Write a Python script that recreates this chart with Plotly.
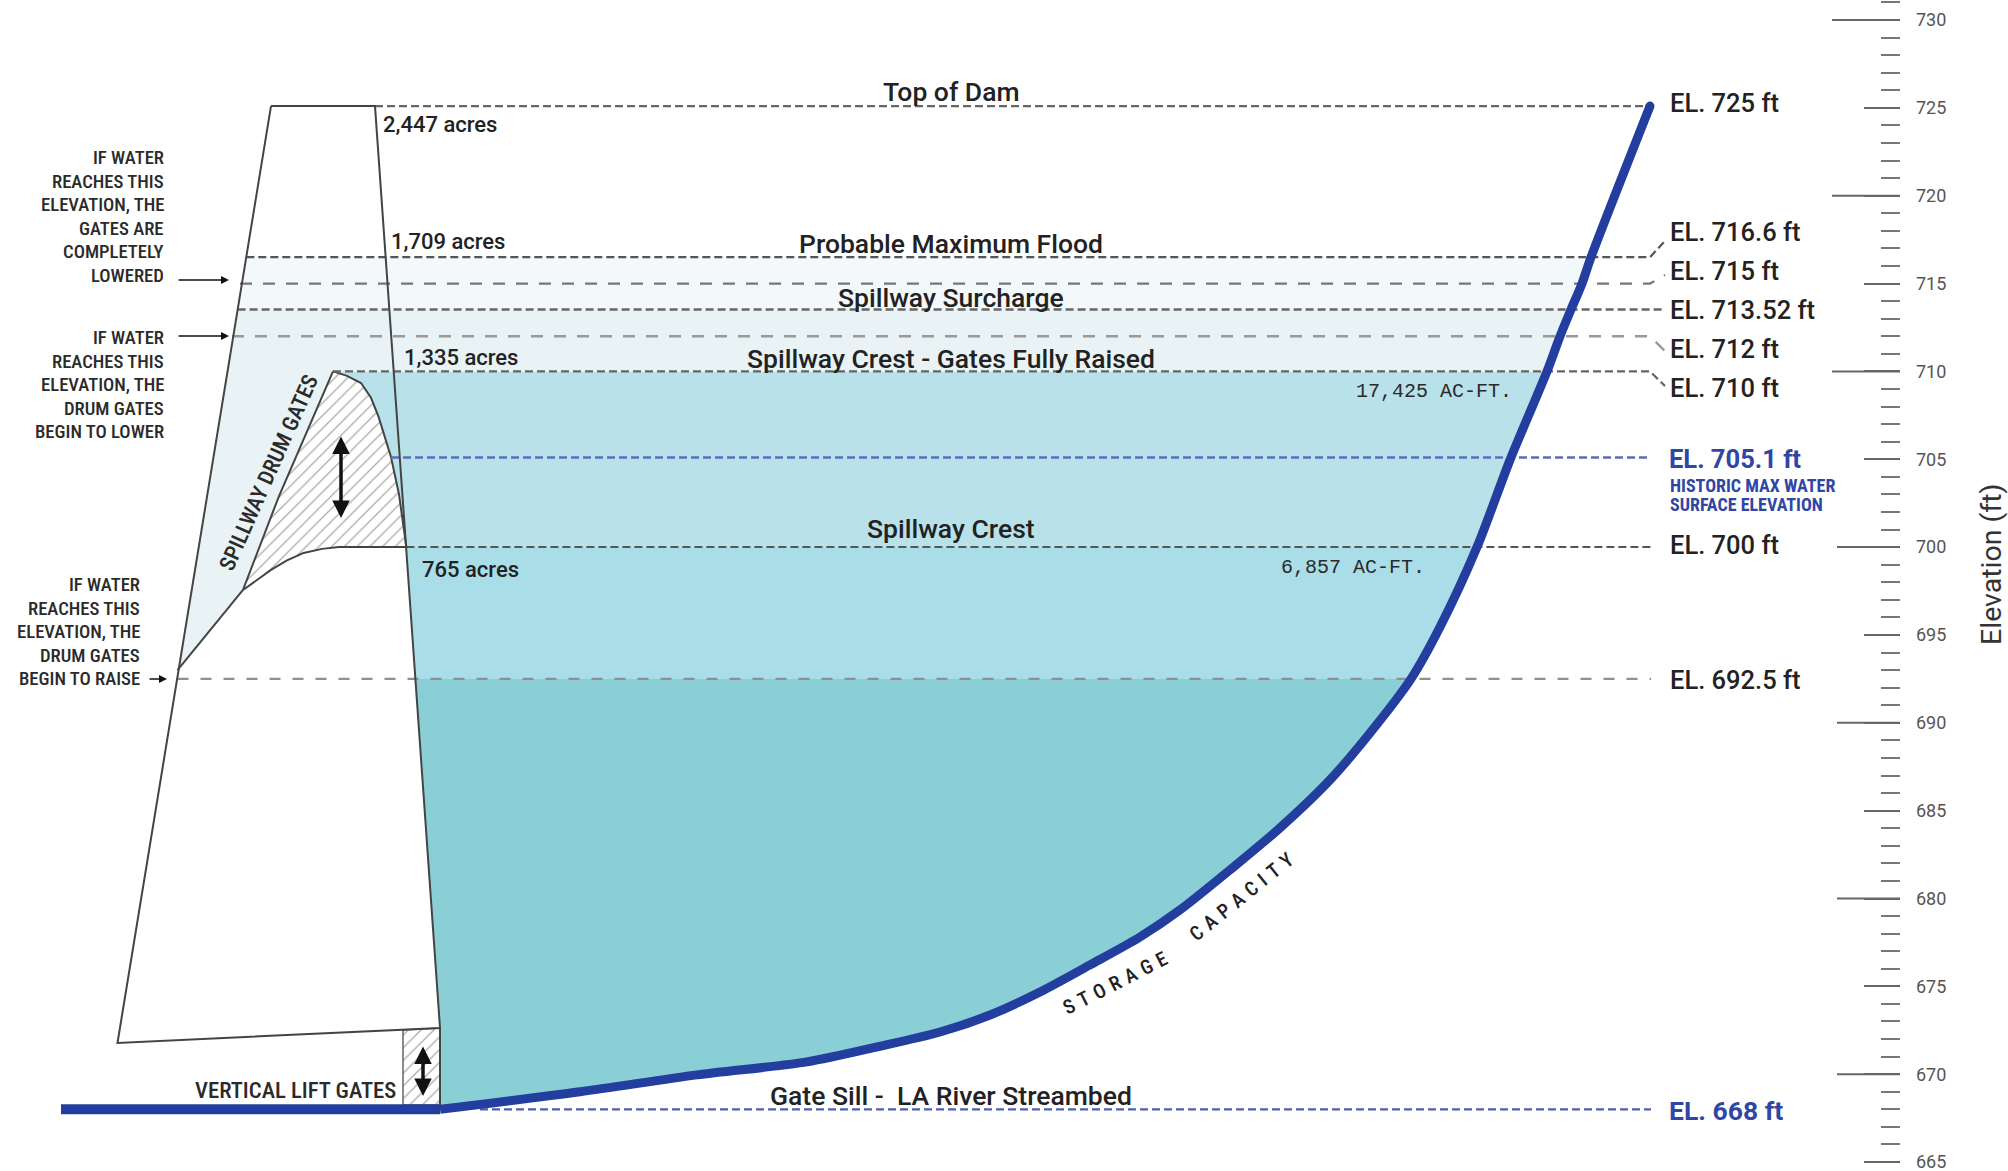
import plotly.graph_objects as go

W, H = 2008, 1171
Y_TOP, Y_BOTTOM = 731.14, 664.49

# ---------- data ----------
curve_dist = [440, 580, 697, 807, 877, 940, 990, 1040, 1090, 1140, 1180, 1230, 1280, 1330, 1370,
              1411, 1440, 1477, 1510, 1547, 1560, 1571, 1582, 1591, 1650]
curve_elev = [668.0, 669.0, 669.96, 670.7, 671.55, 672.4, 673.37, 674.68, 676.22, 677.81, 679.35, 681.63,
              684.02, 686.75, 689.42, 692.5, 695.45, 700.0, 704.96, 710.0, 712.0, 713.52, 715.0, 716.5, 725.1]
bed_dist = [61, 440]
bed_elev = [668.0, 668.0]

dam_dist = [271, 375, 440, 117.5, 271]
dam_elev = [725.1, 725.1, 672.63, 671.78, 725.1]
dam_face_dist = [440, 440]
dam_face_elev = [672.63, 668.0]
dam_left_at = {716.5: 246.3, 713.52: 237.6, 710: 227.4, 693: 177.5}
dam_right_at = {710: 393.8, 700: 406.4, 692.5: 415.4}

gate_front_dist = [333, 347, 361, 371, 378.6, 391, 399, 406.4]
gate_front_elev = [710.0, 709.75, 709.34, 708.5, 707.41, 705.13, 703.0, 700.0]
gate_base_dist = [406.4, 339, 322, 303.6, 287, 271, 243]
gate_base_elev = [700.0, 700.0, 699.9, 699.67, 699.25, 698.7, 697.56]
gate_back_dist = [243, 278.6, 311, 333]
gate_back_elev = [697.56, 702.85, 707.07, 710.0]
ramp_dist = [243, 177.5]
ramp_elev = [697.56, 693.0]

lift_dist = [403, 440, 440, 403, 403]
lift_elev = [672.52, 672.63, 668.25, 668.25, 672.52]

# level, start, end of line, leader end distance, leader end level, dash, colour, width
level_lines = [
    (725.1, 375, 1650, None, None, "8px,4px", "#666666", 2.2),
    (716.5, 246.3, 1650, 1664, 717.37, "8px,4px", "#555555", 2.2),
    (715.0, 240, 1650, 1665, 715.49, "12px,11px", "#777777", 2.2),
    (713.52, 237.6, 1664, None, None, "8px,4px", "#666666", 2.4),
    (712.0, 232, 1650, 1665, 711.16, "12px,11px", "#999999", 2.4),
    (710.0, 333, 1650, 1665, 709.17, "8px,4px", "#666666", 2.2),
    (705.1, 391, 1651, None, None, "8px,4px", "#5f6cbc", 2.4),
    (700.0, 406.4, 1651, None, None, "8px,4px", "#555555", 2),
    (692.5, 177.5, 1651, None, None, "11px,12px", "#8f8f8f", 2.4),
    (668.0, 480, 1651, None, None, "8px,4px", "#4e5fb5", 2.2),
]

major_long = [730, 720, 710]
major_mid = [700, 690, 680, 670]

center_labels = ["Top of Dam", "Probable Maximum Flood", "Spillway Surcharge",
                 "Spillway Crest - Gates Fully Raised", "Spillway Crest", "Gate Sill -  LA River Streambed"]
center_label_y = [92, 243, 297, 359, 529, 1095]
acre_labels = ["2,447 acres", "1,709 acres", "1,335 acres", "765 acres"]
acre_x = [381, 389, 402, 420]
acre_y = [125, 242, 357, 570]
level_labels = ["EL. 725 ft", "EL. 716.6 ft", "EL. 715 ft", "EL. 713.52 ft", "EL. 712 ft", "EL. 710 ft",
                "EL. 700 ft", "EL. 692.5 ft"]
level_label_y = [103, 232, 271, 310, 349, 388, 545, 680]
note_lowered = ["IF WATER", "REACHES THIS", "ELEVATION, THE", "GATES ARE", "COMPLETELY", "LOWERED"]
note_begin_lower = ["IF WATER", "REACHES THIS", "ELEVATION, THE", "DRUM GATES", "BEGIN TO LOWER"]
note_begin_raise = ["IF WATER", "REACHES THIS", "ELEVATION, THE", "DRUM GATES", "BEGIN TO RAISE"]

# ---------- styles ----------
BLUE = "#233e9f"
INK = "#222222"
MAIN = "Roboto"
COND = "Roboto Condensed, Roboto"
MONO = "Liberation Mono"

fig = go.Figure()


def poly(xs, ys, color):
    fig.add_trace(go.Scatter(x=xs, y=ys, mode="lines", line=dict(width=0), fill="toself",
                             fillcolor=color, hoverinfo="skip"))


def curve_part(lo, hi):
    pts = [(x, e) for x, e in zip(curve_dist, curve_elev) if lo <= e <= hi]
    return [p[0] for p in pts], [p[1] for p in pts]


# water bands
cx, ce = curve_part(668.0, 692.5)
poly([dam_right_at[692.5], dam_face_dist[0]] + cx, [692.5, dam_face_elev[0]] + ce, "#8acfd6")
cx, ce = curve_part(692.5, 700)
poly([dam_right_at[700], dam_right_at[692.5]] + cx, [700, 692.5] + ce, "#a9dee9")
cx, ce = curve_part(700, 710)
poly(gate_front_dist + cx, gate_front_elev + ce, "#b9e1ea")
cx, ce = curve_part(710, 713.52)
poly([dam_left_at[713.52], dam_left_at[710], dam_left_at[693]] + ramp_dist[::-1][1:] + gate_back_dist + cx,
     [713.52, 710, 693] + ramp_elev[::-1][1:] + gate_back_elev + ce, "#e9f3f6")
cx, ce = curve_part(713.52, 716.5)
poly([dam_left_at[716.5], dam_left_at[713.52]] + cx, [716.5, 713.52] + ce, "#f3f9fa")

# hatched gates
hatch = dict(shape="/", size=9, solidity=0.14, fgcolor="#555555", bgcolor="white")
fig.add_trace(go.Scatter(
    x=gate_front_dist + gate_base_dist[1:] + gate_back_dist[1:],
    y=gate_front_elev + gate_base_elev[1:] + gate_back_elev[1:],
    mode="lines", fill="toself", fillcolor="white", fillpattern=hatch,
    line=dict(color="#444444", width=2), hoverinfo="skip"))
fig.add_trace(go.Scatter(x=lift_dist, y=lift_elev, mode="lines", fill="toself", fillcolor="white",
                         fillpattern=hatch, line=dict(color="#666666", width=1.5), hoverinfo="skip"))

# level lines
for lvl, x0, x1, lx, le, dash, col, wid in level_lines:
    xs, ys = [x0, x1], [lvl, lvl]
    if lx is not None:
        xs.append(lx)
        ys.append(le)
    fig.add_trace(go.Scatter(x=xs, y=ys, mode="lines", line=dict(color=col, width=wid, dash=dash),
                             hoverinfo="skip"))

# dam outline
for xs, ys in [(dam_dist, dam_elev), (dam_face_dist, dam_face_elev), (ramp_dist, ramp_elev)]:
    fig.add_trace(go.Scatter(x=xs, y=ys, mode="lines", line=dict(color="#444444", width=2), hoverinfo="skip"))

# reservoir bed + capacity curve
fig.add_trace(go.Scatter(x=bed_dist, y=bed_elev, mode="lines", line=dict(color=BLUE, width=10), hoverinfo="skip"))
fig.add_trace(go.Scatter(x=curve_dist, y=curve_elev, mode="lines",
                         line=dict(color=BLUE, width=9, shape="spline", smoothing=0.8), hoverinfo="skip"))
fig.add_trace(go.Scatter(x=curve_dist[-1:], y=curve_elev[-1:], mode="markers",
                         marker=dict(color=BLUE, size=9), hoverinfo="skip"))

# long ticks of the elevation scale
AX_X = 1900
for vals, ln in [(major_long, 68), (major_mid, 63)]:
    xs, ys = [], []
    for v in vals:
        xs += [AX_X - ln, AX_X, None]
        ys += [v, v, None]
    fig.add_trace(go.Scatter(x=xs, y=ys, mode="lines", line=dict(color="#666666", width=2), hoverinfo="skip"))


def txt(s, x, y, size, font=MAIN, color=INK, anchor="left", angle=0, weight=None):
    f = dict(family=font, size=size, color=color)
    if weight:
        f["weight"] = weight
    fig.add_annotation(text=s, x=x / W, y=1 - y / H, xref="paper", yref="paper", showarrow=False,
                       xanchor=anchor, yanchor="middle", font=f, textangle=angle)


def arrow(x_head, y_head, dx, dy, width=1.6, size=1.0, both=False):
    fig.add_annotation(x=x_head / W, y=1 - y_head / H, xref="paper", yref="paper", text="",
                       ax=dx, ay=dy, axref="pixel", ayref="pixel", showarrow=True,
                       arrowhead=2, arrowsize=size, arrowwidth=width, arrowcolor="#111111",
                       arrowside="end+start" if both else "end", standoff=0, startstandoff=0)


for s, y in zip(center_labels, center_label_y):
    txt(s, 951, y, 26.5, anchor="center", weight=500)
for s, x, y in zip(acre_labels, acre_x, acre_y):
    txt(s, x, y, 22, weight=500)
for s, y in zip(level_labels, level_label_y):
    txt(s, 1668, y, 25.5, weight=500)
txt("EL. 705.1 ft", 1667, 459, 25.5, color="#2f46a5", weight=700)
txt("HISTORIC MAX WATER", 1668, 485, 18, font=COND, color="#2f46a5", weight=700)
txt("SURFACE ELEVATION", 1668, 504, 18, font=COND, color="#2f46a5", weight=700)
txt("EL. 668 ft", 1667, 1110, 26.5, color="#2f46a5", weight=700)

for i, s in enumerate(note_lowered):
    txt(s, 166, 158 + i * 23.5, 18.7, font=COND, anchor="right", color="#2a2a2a", weight=500)
for i, s in enumerate(note_begin_lower):
    txt(s, 166, 338 + i * 23.5, 18.7, font=COND, anchor="right", color="#2a2a2a", weight=500)
for i, s in enumerate(note_begin_raise):
    txt(s, 142, 585 + i * 23.5, 18.7, font=COND, anchor="right", color="#2a2a2a", weight=500)

txt("SPILLWAY DRUM GATES", 268, 473, 22, font=COND, anchor="center", angle=-66, color="#2a2a2a", weight=500)
txt("VERTICAL LIFT GATES", 398, 1090, 22.7, font=COND, anchor="right", color="#2a2a2a", weight=500)
txt("17,425 AC-FT.", 1514, 391, 20, font=MONO, anchor="right", color="#2a2a2a")
txt("6,857 AC-FT.", 1427, 567, 20, font=MONO, anchor="right", color="#2a2a2a")
txt("S\u2004T\u2004O\u2004R\u2004A\u2004G\u2004E", 1115, 983, 20, font=COND, anchor="center", angle=-27, weight=500)
txt("C\u2004A\u2004P\u2004A\u2004C\u2004I\u2004T\u2004Y", 1241, 897, 20, font=COND, anchor="center", angle=-39, weight=500)
txt("Elevation (ft)", 1991, 565, 28.5, font=MAIN, anchor="center", angle=-90, color="#333333")

arrow(229, 280, -52, 0)
arrow(229, 336, -52, 0)
arrow(167, 679, -19, 0)
arrow(341, 518, 0, -83, width=3.5, size=1.0, both=True)
arrow(423, 1096, 0, -51, width=3.5, size=1.0, both=True)

fig.update_layout(
    width=W, height=H, margin=dict(l=0, r=0, t=0, b=0, pad=0),
    plot_bgcolor="white", paper_bgcolor="white", showlegend=False, hovermode=False,
    xaxis=dict(range=[0, W], visible=False, fixedrange=True),
    yaxis=dict(range=[Y_BOTTOM, Y_TOP], side="right", anchor="free", position=AX_X / W, fixedrange=True,
               showgrid=False, zeroline=False, showline=False,
               tick0=665, dtick=5, ticks="inside", ticklen=36, tickwidth=2, tickcolor="#666666",
               ticklabelstandoff=15, ticklabeloverflow="allow", tickfont=dict(family=MAIN, size=18, color="#555555"),
               minor=dict(dtick=1, tick0=665, ticks="inside", ticklen=19, tickwidth=2, tickcolor="#777777")),
)
fig.write_html("out.html", config={"displayModeBar": False},
               post_script="document.body.style.margin='0';document.body.style.overflow='hidden';")
